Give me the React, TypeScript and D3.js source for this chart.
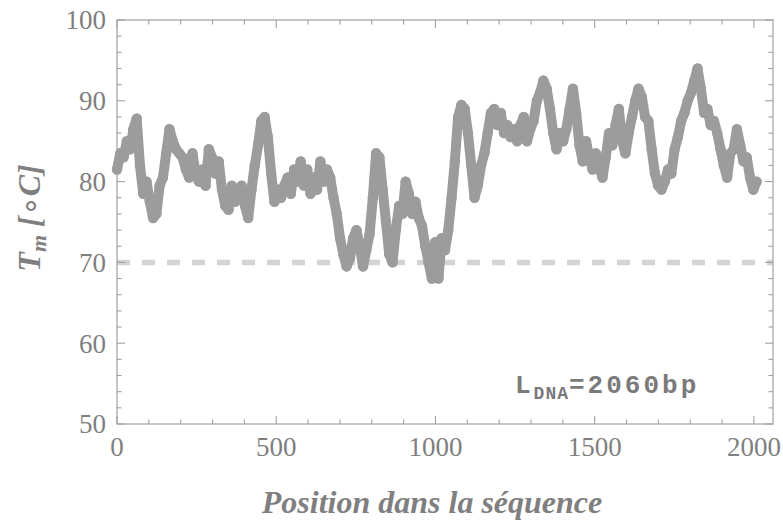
import React from "react";
import * as d3 from "d3";

const positionsStart = 0;
const positionStep = 10.3;
const sequenceLength = 2060;
const tmValues: number[] = [
  81.5, 83.5, 83.0, 85.0, 84.0, 86.5, 87.8, 82.0, 78.5, 80.0,
  77.5, 75.5, 76.0, 79.5, 80.5, 83.5, 86.5, 85.0, 84.0, 83.5,
  83.0, 81.5, 80.5, 83.5, 81.0, 80.0, 81.5, 79.5, 84.0, 83.0,
  81.0, 82.5, 79.0, 77.0, 76.5, 79.5, 77.5, 79.0, 79.5, 77.0,
  75.5, 79.0, 82.0, 84.5, 87.5, 88.0, 85.5, 81.0, 77.5, 79.0,
  78.0, 79.5, 80.5, 78.5, 81.5, 80.0, 82.5, 79.5, 81.5, 78.5,
  80.5, 79.0, 82.5, 80.0, 81.5, 80.5, 78.0, 76.0, 73.0, 71.0,
  69.5, 70.5, 73.0, 74.0, 72.0, 69.5, 71.5, 73.5, 78.0, 83.5,
  83.0, 79.0, 75.0, 71.0, 70.0, 74.0, 77.0, 76.0, 80.0, 78.5,
  76.0, 77.5, 75.5, 74.5, 72.0, 70.0, 68.0, 72.5, 68.0, 73.0,
  71.5, 74.0, 78.0, 82.5, 88.0, 89.5, 89.0, 86.0, 82.0, 78.0,
  79.5, 82.0, 83.5, 86.0, 88.5, 89.0, 87.0, 88.5, 86.0, 87.0,
  85.5, 86.5, 85.0, 87.0, 88.0, 85.0, 86.5, 87.5, 90.0, 91.0,
  92.5, 91.5, 89.0, 86.0, 84.0, 86.0, 85.0, 86.5, 89.0, 91.5,
  88.5, 84.5, 82.5, 85.0, 83.0, 81.5, 83.5, 82.0, 80.5, 83.0,
  86.0, 84.5, 87.0, 89.0, 85.0, 83.5, 86.0, 88.0, 90.0, 91.5,
  90.5, 88.0, 87.5, 84.0, 81.0, 79.5, 79.0, 80.0, 81.5, 81.0,
  84.0, 85.5, 87.5, 88.5, 90.0, 91.0, 92.5, 94.0, 91.5, 88.5,
  89.0, 87.0, 87.5, 86.0, 84.0, 82.0, 80.5, 83.5, 84.0, 86.5,
  84.5, 82.5, 83.0, 80.5, 79.0, 80.0,
];
const thresholdTm = 70;
const xTicksMajor = [0, 500, 1000, 1500, 2000];
const yTicksMajor = [50, 60, 70, 80, 90, 100];

const W = 783;
const H = 529;
const left = 117, right = 773, top = 20, bottom = 424;
const gray = "#9c9c9c";
const textGray = "#7f7f7f";
const frameGray = "#a0a0a0";
const serif = "Liberation Serif";

export default function App() {
  const x = d3.scaleLinear().domain([0, sequenceLength]).range([left, right]);
  const y = d3.scaleLinear().domain([50, 100]).range([bottom, top]);
  const data = tmValues.map((v, i) => ({ pos: positionsStart + i * positionStep, tm: v }));
  const line = d3
    .line<{ pos: number; tm: number }>()
    .x((d) => x(d.pos))
    .y((d) => y(d.tm));

  const xMinor = d3.range(0, 2001, 100);
  const yMinor = d3.range(50, 100.01, 2);

  return (
    <svg
      width={W}
      height={H}
      style={{ position: "absolute", left: 0, top: 0, background: "#fff" }}
    >
      <line
        x1={x(0)}
        x2={x(sequenceLength)}
        y1={y(thresholdTm)}
        y2={y(thresholdTm)}
        stroke="#d4d4d4"
        strokeWidth={5.5}
        strokeDasharray="13,12"
      />
      <path
        d={line(data) || ""}
        fill="none"
        stroke={gray}
        strokeWidth={10}
        strokeLinejoin="round"
        strokeLinecap="round"
      />
      {data.map((d, i) => (
        <circle key={i} cx={x(d.pos)} cy={y(d.tm)} r={5.2} fill={gray} />
      ))}
      <rect
        x={left}
        y={top}
        width={right - left}
        height={bottom - top}
        fill="none"
        stroke={frameGray}
        strokeWidth={1.2}
      />
      {xMinor.map((t) => {
        const len = t % 500 === 0 ? 8 : 4.5;
        return (
          <g key={"xt" + t}>
            <line x1={x(t)} x2={x(t)} y1={bottom} y2={bottom - len} stroke={frameGray} strokeWidth={1.1} />
            <line x1={x(t)} x2={x(t)} y1={top} y2={top + len} stroke={frameGray} strokeWidth={1.1} />
          </g>
        );
      })}
      {yMinor.map((t) => {
        const len = Math.abs(t % 10) < 1e-6 ? 8 : 4.5;
        return (
          <g key={"yt" + t}>
            <line x1={left} x2={left + len} y1={y(t)} y2={y(t)} stroke={frameGray} strokeWidth={1.1} />
            <line x1={right} x2={right - len} y1={y(t)} y2={y(t)} stroke={frameGray} strokeWidth={1.1} />
          </g>
        );
      })}
      {xTicksMajor.map((t) => (
        <text
          key={"xl" + t}
          x={x(t)}
          y={456}
          textAnchor="middle"
          fontFamily={serif}
          fontSize={27}
          fill={textGray}
        >
          {t}
        </text>
      ))}
      {yTicksMajor.map((t) => (
        <text
          key={"yl" + t}
          x={106}
          y={y(t)}
          dy="0.35em"
          textAnchor="end"
          fontFamily={serif}
          fontSize={27}
          fill={textGray}
        >
          {t}
        </text>
      ))}
      <text
        x={432}
        y={513}
        textAnchor="middle"
        fontFamily={serif}
        fontSize={32}
        fontWeight="bold"
        fontStyle="italic"
        fill={textGray}
      >
        Position dans la séquence
      </text>
      <text
        transform={`translate(40,218) rotate(-90)`}
        textAnchor="middle"
        fontFamily={serif}
        fontSize={32}
        fontWeight="bold"
        fontStyle="italic"
        fill={textGray}
      >
        <tspan>T</tspan>
        <tspan fontSize={22} dy={6}>m</tspan>
        <tspan dy={-6}> [</tspan>
        <tspan fontStyle="normal" fontWeight="normal">∘</tspan>
        <tspan>C]</tspan>
      </text>
      <text
        x={515}
        y={393}
        fontFamily="Liberation Mono"
        fontSize={26}
        fontWeight="bold"
        fill="#7a7a7a"
        letterSpacing={3}
      >
        <tspan>L</tspan>
        <tspan fontSize={18} dy={6} letterSpacing={1}>DNA</tspan>
        <tspan dy={-6}>=2060bp</tspan>
      </text>
    </svg>
  );
}
